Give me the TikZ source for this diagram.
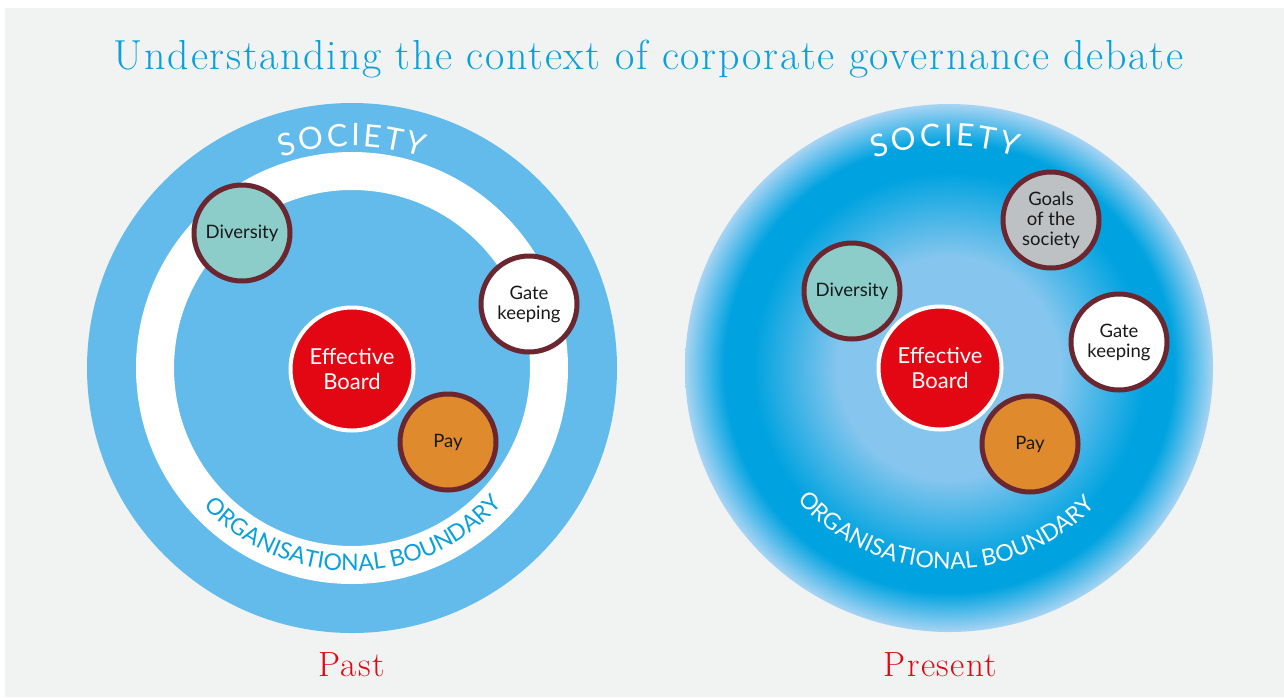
\documentclass[tikz,border=0pt]{standalone}
\usepackage{fontspec}
\newfontfamily\labelfont{Lato}
\newfontfamily\titlefont[LetterSpace=4]{Latin Modern Roman}
\usepackage{tikz}
\usetikzlibrary{decorations.text}

\definecolor{bggray}{HTML}{F1F3F2}
\definecolor{titleblue}{HTML}{0AA0DC}
\definecolor{pastblue}{HTML}{62BBEB}
\definecolor{socmid}{HTML}{86C6EE}
\definecolor{socdark}{HTML}{00A3E0}
\definecolor{socedge}{HTML}{A8D4F3}
\definecolor{boardred}{HTML}{E30613}
\definecolor{ringred}{HTML}{6B2630}
\definecolor{divteal}{HTML}{8CCCC9}
\definecolor{payorange}{HTML}{E08A2E}
\definecolor{goalgray}{HTML}{BEC1C3}

% path radius is 25bp in shading units
\pgfdeclareradialshading{socshade}{\pgfpoint{0bp}{0bp}}{color(0bp)=(socmid); color(10.5bp)=(socmid); color(18.5bp)=(socdark); color(21.3bp)=(socdark); color(25bp)=(socedge); color(50bp)=(socedge)}

\tikzset{
  topic/.style={circle, draw=ringred, line width=5pt, minimum size=96pt, inner sep=0pt,
    align=center, text=black!90, font=\labelfont\fontsize{18.5}{20}\selectfont},
  board/.style={circle, fill=boardred, draw=white, line width=4pt, minimum size=123pt,
    inner sep=0pt, align=center, text=white, font=\labelfont\fontsize{22}{25}\selectfont},
  heading/.style={anchor=base, text=titleblue, font=\titlefont\fontsize{42}{42}\selectfont},
  era/.style={anchor=base, text=boardred, font=\titlefont\fontsize{35}{35}\selectfont}
}

\begin{document}
\begin{tikzpicture}[x=1pt, y=1pt]
			% draw background
			\fill[white] (0,0) rectangle (1284,-697);
			\useasboundingbox (0,0) rectangle (1284,-697);
			\fill[bggray] (5,-8) rectangle (1284,-697);
			
			% draw title
			\node (title) [heading] at (648.5,-69) {Understanding the context of corporate governance debate};
			
			% draw outer circles
			\node (pastsoc) [circle, fill=pastblue, minimum size=530pt, inner sep=0pt] at (352,-368) {};
			\node (pastorg) [circle, draw=white, line width=38pt, minimum size=394pt, inner sep=0pt] at (352,-368) {};
			\node (presoc) [circle, shading=socshade, minimum size=528pt, inner sep=0pt] at (949,-368) {};
			
			% draw curved labels
			\path[decoration={text along path, text align=fit to path,
				text={|\labelfont\fontsize{31}{31}\selectfont\color{white}|SOCIETY}}, decorate]
				([shift={(108.5:222pt)}]pastsoc.center) arc[start angle=108.5, end angle=71.5, radius=222pt];
			\path[decoration={text along path, text align=fit to path,
				text={|\labelfont\fontsize{31}{31}\selectfont\color{white}|SOCIETY}}, decorate]
				([shift={(109.5:222pt)}]presoc.center) arc[start angle=109.5, end angle=72.5, radius=222pt];
			\path[decoration={text along path, text align=fit to path,
				text={|\labelfont\fontsize{23}{23}\selectfont\color{titleblue}|ORGANISATIONAL BOUNDARY}}, decorate]
				([shift={(223:203pt)}]pastorg.center) arc[start angle=223, end angle=317, radius=203pt];
			\path[decoration={text along path, text align=fit to path,
				text={|\labelfont\fontsize{23}{23}\selectfont\color{white}|ORGANISATIONAL BOUNDARY}}, decorate]
				([shift={(221:201pt)}]presoc.center) arc[start angle=221, end angle=316, radius=201pt];
			
			% draw past nodes
			\node (pastboard) [board] at (352,-369) {Effective\\Board};
			\node (pastdiv) [topic, fill=divteal] at (242,-233) {Diversity};
			\node (pastgate) [topic, fill=white] at (529,-304) {Gate\\keeping};
			\node (pastpay) [topic, fill=payorange] at (448,-442) {Pay};
			
			% draw present nodes
			\node (preboard) [board] at (940,-368) {Effective\\Board};
			\node (prediv) [topic, fill=divteal] at (852,-291) {Diversity};
			\node (pregoal) [topic, fill=goalgray] at (1051,-220) {Goals\\of the\\society};
			\node (pregate) [topic, fill=white] at (1119,-342) {Gate\\keeping};
			\node (prepay) [topic, fill=payorange] at (1030,-444) {Pay};
			
			% draw captions
			\node (past) [era] at (351.5,-676) {Past};
			\node (present) [era] at (940.5,-676) {Present};
\end{tikzpicture}
\end{document}
